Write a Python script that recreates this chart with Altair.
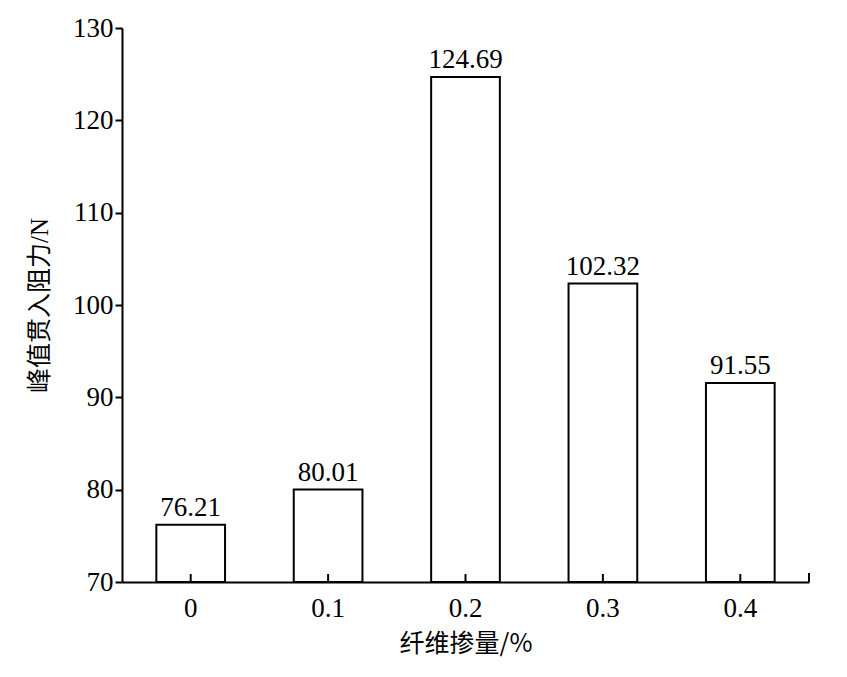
import altair as alt
import pandas as pd

categories = ["0", "0.1", "0.2", "0.3", "0.4"]
values = [76.21, 80.01, 124.69, 102.32, 91.55]
labels = ["76.21", "80.01", "124.69", "102.32", "91.55"]
y_ticks = [70, 80, 90, 100, 110, 120, 130]

df = pd.DataFrame({"cat": categories, "val": values, "lab": labels, "base": [70] * 5})

W, H = 687, 554
SERIF = "Liberation Serif, Noto Sans CJK SC"
CJK = "Noto Sans CJK SC"

xs = alt.Scale(domain=categories, paddingInner=0.5, paddingOuter=0.25)
ys = alt.Scale(domain=[70, 130], nice=False, zero=False)

x_enc = alt.X("cat:N", scale=xs, sort=categories,
              axis=alt.Axis(title="纤维掺量/%", labelAngle=0, ticks=False,
                            labelPadding=13, titlePadding=10,
                            labelFont=SERIF, labelFontSize=27, labelColor="black",
                            titleFont=CJK, titleFontSize=25, titleFontWeight="normal",
                            titleColor="black", domainColor="black", domainWidth=2,
                            grid=False))
y_enc = alt.Y("val:Q", scale=ys,
              axis=alt.Axis(title="峰值贯入阻力/N", values=y_ticks, tickSize=7,
                            tickWidth=2, tickColor="black", labelPadding=2,
                            labelFont=SERIF, labelFontSize=27, labelColor="black",
                            titleFont=SERIF, titleFontSize=25, titleFontWeight="normal",
                            titleColor="black", titlePadding=20,
                            domainColor="black", domainWidth=2, grid=False))

bars = alt.Chart(df).mark_bar(fill="white", stroke="black", strokeWidth=2).encode(
    x=x_enc, y=y_enc, y2="base:Q"
)

text = alt.Chart(df).mark_text(baseline="bottom", dy=-3, font=SERIF, fontSize=27,
                               color="black").encode(
    x=alt.X("cat:N", scale=xs, sort=categories),
    y=alt.Y("val:Q", scale=ys),
    text="lab:N",
)

xticks = alt.Chart(df).mark_rule(color="black", strokeWidth=2).encode(
    x=alt.X("cat:N", scale=xs, sort=categories),
    y=alt.value(H),
    y2=alt.value(H - 8),
)

endtick = alt.Chart(df.head(1)).mark_rule(color="black", strokeWidth=2).encode(
    x=alt.value(W),
    y=alt.value(H),
    y2=alt.value(H - 9),
)

chart = alt.layer(bars, text, xticks, endtick).properties(
    width=W, height=H,
    autosize=alt.AutoSizeParams(type="none"),
    padding={"left": 114, "top": 20, "right": 20, "bottom": 80},
).configure(background="white").configure_view(stroke=None, strokeWidth=0)

chart.save("out.html", embed_options={"renderer": "svg", "actions": False})
